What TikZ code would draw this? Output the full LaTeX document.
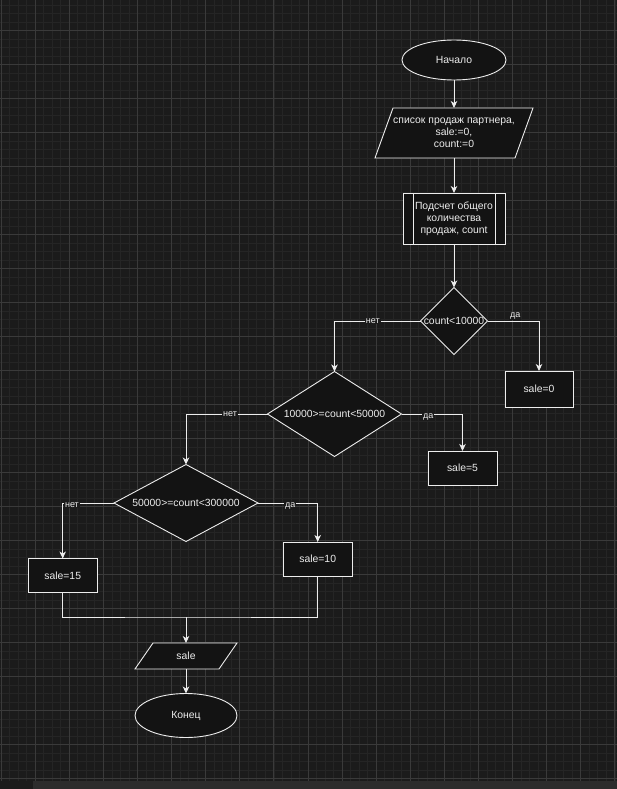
\documentclass[tikz,border=0pt]{standalone}
\usepackage{fontspec}
\setmainfont{Liberation Sans}
\usetikzlibrary{shapes.geometric,arrows.meta,calc}

\definecolor{canvas}{HTML}{1B1B1B}
\definecolor{gridminor}{HTML}{252525}
\definecolor{gridmajor}{HTML}{3A3A3A}
\definecolor{shapefill}{HTML}{131313}
\definecolor{ink}{HTML}{EDEDED}
\definecolor{scrollbar}{HTML}{2C2C2C}

\tikzset{
  line/.style={draw=ink, line width=0.9pt},
  flow/.style={line, -{Stealth[length=7pt,width=6.5pt,inset=2pt]}},
  txt/.style={text=ink, font=\fontsize{10.4}{11.8}\selectfont, align=center},
  boxed/.style={txt, draw=ink, fill=shapefill, line width=0.9pt, inner sep=0pt, outer sep=0pt},
  proc/.style={boxed, rectangle},
  term/.style={boxed, ellipse},
  decision/.style={boxed, diamond},
  iotext/.style={txt, rectangle, inner sep=0pt, outer sep=0pt},
  ioshape/.style={draw=ink, fill=shapefill, line width=0.9pt, line join=miter},
  branch/.style={text=ink, font=\fontsize{9}{10}\selectfont, fill=canvas, inner sep=1pt},
}

\begin{document}
\begin{tikzpicture}[x=1pt,y=-1pt]
  % canvas with a fine and a coarse grid
  \fill[canvas] (0,0) rectangle (617,789);
  \useasboundingbox (0,0) rectangle (617,789);
  \foreach \i in {0,...,72} \draw[gridminor, line width=0.6pt] (1+\i*8.525,0) -- ++(0,789);
  \foreach \i in {0,...,92} \draw[gridminor, line width=0.6pt] (0,5+\i*8.5) -- ++(617,0);
  \foreach \i in {0,...,18} \draw[gridmajor, line width=0.7pt] (1+\i*34.1,0) -- ++(0,789);
  \foreach \i in {0,...,22} \draw[gridmajor, line width=0.7pt] (0,30.5+\i*34) -- ++(617,0);
  \fill[scrollbar] (33,781) rectangle (617,789);
  \fill[canvas] (0,781) rectangle (33,789);

  % flowchart blocks
  \node[term, minimum width=104pt, minimum height=40pt] (start) at (454,60) {Начало};

  % input parallelogram (slant 18)
  \coordinate (inputc) at (454,133);
  \draw[ioshape] ($(inputc)+(-61,-25)$) -- ($(inputc)+(79,-25)$)
                 -- ($(inputc)+(61,25)$) -- ($(inputc)+(-79,25)$) -- cycle;
  \node[iotext, minimum width=140pt, minimum height=50pt] (input) at (inputc)
       {список продаж партнера,\\sale:=0,\\count:=0};

  \node[proc, minimum width=102pt, minimum height=51pt] (count) at (454,218.5)
       {Подсчет общего\\количества\\продаж, count};
  \draw[line] ($(count.north west)+(10,0)$) -- ($(count.south west)+(10,0)$);
  \draw[line] ($(count.north east)-(10,0)$) -- ($(count.south east)-(10,0)$);

  \node[decision, minimum width=67pt, minimum height=67pt,
        label={[txt]center:count<10000}] (d1) at (454,321) {};
  \node[proc, minimum width=68pt, minimum height=36pt] (s0) at (539,389) {sale=0};

  \node[decision, minimum width=134pt, minimum height=85pt,
        label={[txt]center:10000>=count<50000}] (d2) at (334.5,414) {};
  \node[proc, minimum width=69pt, minimum height=34pt] (s5) at (462.5,468) {sale=5};

  \node[decision, minimum width=144pt, minimum height=77pt,
        label={[txt]center:50000>=count<300000}] (d3) at (186,503) {};
  \node[proc, minimum width=69pt, minimum height=34pt] (s15) at (62.7,575.5) {sale=15};
  \node[proc, minimum width=69pt, minimum height=34pt] (s10) at (317.7,559) {sale=10};

  \coordinate (merge) at (186,617);

  % output parallelogram (slant 18)
  \coordinate (outc) at (186,656);
  \draw[ioshape] ($(outc)+(-33,-13)$) -- ($(outc)+(51,-13)$)
                 -- ($(outc)+(33,13)$) -- ($(outc)+(-51,13)$) -- cycle;
  \node[iotext, minimum width=66pt, minimum height=26pt] (out) at (outc) {sale};

  \node[term, minimum width=102pt, minimum height=44pt] (stop) at (186,715.5) {Конец};

  % connectors
  \draw[flow] (start.south) -- (input.north);
  \draw[flow] (input.south) -- (count.north);
  \draw[flow] (count.south) -- (d1.north);

  \draw[flow] (d1.west) -| node[branch, pos=0.277] {нет} (d2.north);
  \draw[flow] (d1.east) -| node[branch, pos=0.27, yshift=5pt] {да} (s0.north);

  \draw[flow] (d2.west) -| node[branch, pos=0.23] {нет} (d3.north);
  \draw[flow] (d2.east) -| node[branch, pos=0.22, yshift=-3pt] {да} (s5.north);

  \draw[flow] (d3.west) -| node[branch, pos=0.41, yshift=-2pt] {нет} (s15.north);
  \draw[flow] (d3.east) -| node[branch, pos=0.27, yshift=-3pt] {да} (s10.north);

  \draw[line] (s15.south) |- (merge) -| (s10.south);
  \draw[flow] (merge) -- (out.north);
  \draw[flow] (out.south) -- (stop.north);
\end{tikzpicture}
\end{document}
